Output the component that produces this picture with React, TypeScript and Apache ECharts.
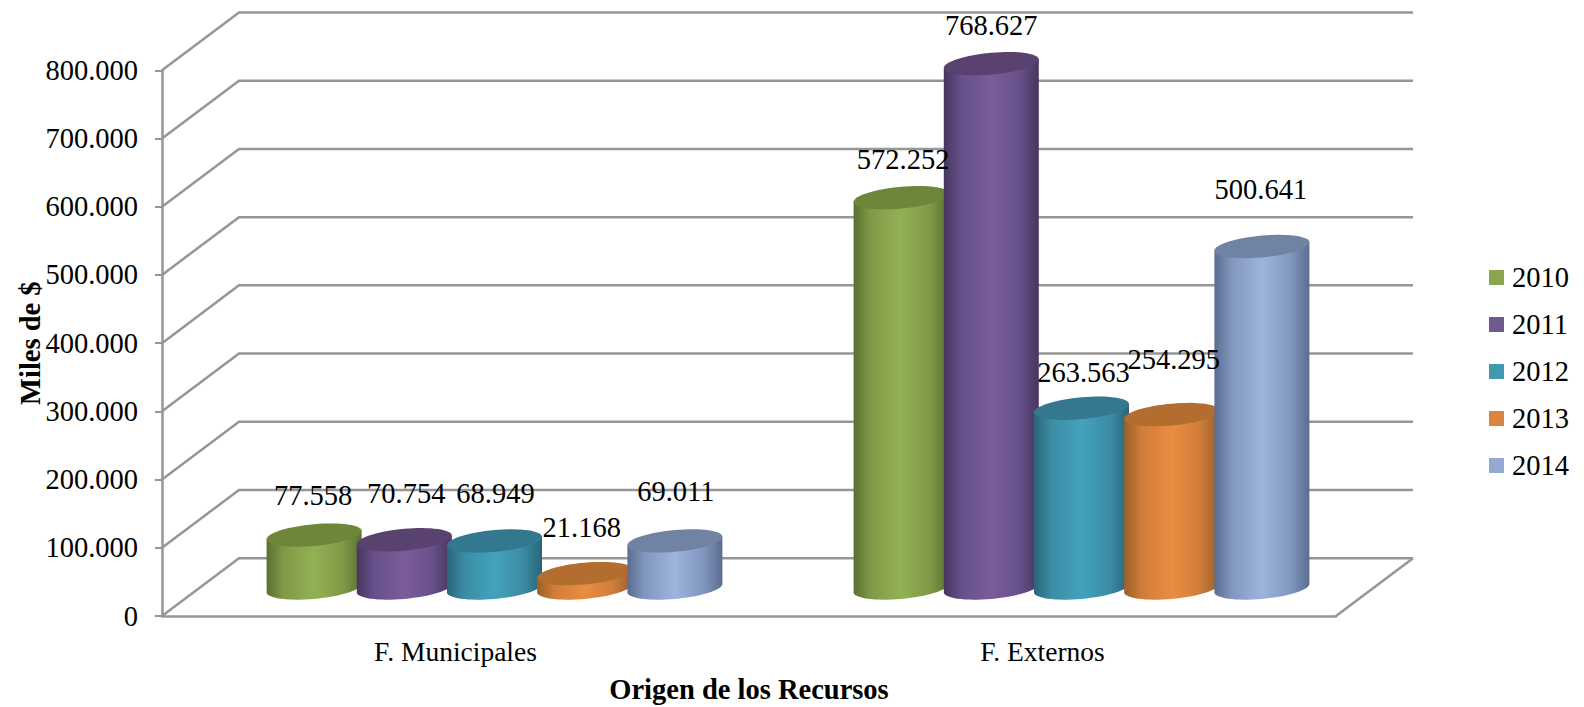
import React, { useEffect, useRef } from "react";
import * as echarts from "echarts";

const categories = ["F. Municipales", "F. Externos"];
const years = ["2010", "2011", "2012", "2013", "2014"];
const values2010 = [77558, 572252];
const values2011 = [70754, 768627];
const values2012 = [68949, 263563];
const values2013 = [21168, 254295];
const values2014 = [69011, 500641];
const allValues = [values2010, values2011, values2012, values2013, values2014];
const yTicks = [0, 100000, 200000, 300000, 400000, 500000, 600000, 700000, 800000];

const legendColors = ["#89A54E", "#71588F", "#4198AF", "#DB843D", "#93A9CF"];
const topColors = ["#6E8639", "#5A4270", "#33788E", "#B36D2F", "#7083A3"];
const edgeColors = ["#5C7030", "#46365E", "#2A6478", "#99602A", "#5A6C90"];
const midColors = ["#7F9A47", "#67508A", "#3B8CA4", "#CF7D3A", "#8297BF"];
const lightColors = ["#92B153", "#7A5C99", "#44A2BC", "#EA8D41", "#9DB4DD"];

// Manual data-label nudges as in the original, per year, per category.
const labelDx = [[-1, 2], [2, 0], [1, 2], [-3, 2], [1, -1]];
const labelDy = [[-39, -37], [-45, -37], [-46, -35], [-45, -54], [-48, -56]];
const categoryNudge = [0.5, 0.5];

const FONT = "Liberation Serif";
const FS = 28.5;
const GREY = "#969696";
const DEPTH_X = 77;
const DEPTH_Y = 57.8;
const BAR_LIFT = 28;
const STEP = 90.2;
const A = 47.5;
const B = 4.2;
const C = 10.9;

const fmt = (v: number) => (v === 0 ? "0" : `${Math.floor(v / 1000)}.${String(v % 1000).padStart(3, "0")}`);

function barCenter(api: any, idx: number) {
  const cat = api.value(0);
  const p = api.coord([cat, api.value(1)]);
  return [p[0] + DEPTH_X / 2 + (idx - 2) * STEP + categoryNudge[cat], p[1] - BAR_LIFT];
}

function renderBar(idx: number) {
  return (params: any, api: any) => {
    const [cx, cyTop] = barCenter(api, idx);
    const zero = api.coord([api.value(0), 0]);
    const cyBottom = zero[1] - BAR_LIFT;
    const body: number[][] = [];
    for (let i = 0; i <= 32; i++) {
      const t = (Math.PI * i) / 32;
      body.push([cx + A * Math.cos(t), cyBottom - B * Math.cos(t) + C * Math.sin(t)]);
    }
    body.push([cx - A, cyTop + B]);
    body.push([cx + A, cyTop - B]);
    const top: number[][] = [];
    for (let i = 0; i < 64; i++) {
      const t = (2 * Math.PI * i) / 64;
      top.push([cx + A * Math.cos(t), cyTop - B * Math.cos(t) + C * Math.sin(t)]);
    }
    const gradient = {
      type: "linear", x: 0, y: 0, x2: 1, y2: 0,
      colorStops: [
        { offset: 0, color: edgeColors[idx] },
        { offset: 0.18, color: midColors[idx] },
        { offset: 0.5, color: lightColors[idx] },
        { offset: 0.8, color: midColors[idx] },
        { offset: 1, color: edgeColors[idx] },
      ],
    };
    return {
      type: "group",
      children: [
        { type: "polygon", shape: { points: body }, style: { fill: gradient } },
        { type: "polygon", shape: { points: top }, style: { fill: topColors[idx] } },
      ],
    };
  };
}

function renderWall(params: any, api: any) {
  const cs = params.coordSys;
  const v = api.value(1);
  const y = api.coord([0, v])[1];
  const style = { stroke: GREY, lineWidth: 2.5, fill: "none" };
  const children: any[] = [
    {
      type: "polyline",
      shape: { points: [[cs.x, y], [cs.x + DEPTH_X, y - DEPTH_Y], [cs.x + cs.width + DEPTH_X, y - DEPTH_Y]] },
      style,
    },
  ];
  if (v === 0) {
    children.push({
      type: "line",
      shape: { x1: cs.x + cs.width, y1: y, x2: cs.x + cs.width + DEPTH_X, y2: y - DEPTH_Y },
      style,
    });
  }
  return { type: "group", children };
}

function renderLabel(params: any, api: any) {
  const idx = api.value(2);
  const cat = api.value(0);
  const [cx, cy] = barCenter(api, idx);
  return {
    type: "text",
    x: cx + labelDx[idx][cat],
    y: cy + labelDy[idx][cat] - 1,
    style: {
      text: fmt(api.value(1)),
      fill: "#000",
      font: `${FS}px "${FONT}"`,
      align: "center",
      verticalAlign: "middle",
    },
  };
}

export default function App() {
  const ref = useRef<HTMLDivElement>(null);
  useEffect(() => {
    const chart = echarts.init(ref.current!, null, { renderer: "svg" });
    const labelData: number[][] = [];
    allValues.forEach((vals, s) => vals.forEach((v, c) => labelData.push([c, v, s])));
    chart.setOption({
      animation: false,
      backgroundColor: "#fff",
      textStyle: { fontFamily: FONT },
      grid: { left: 162, top: 70.3, width: 1174, height: 545.7, containLabel: false, outerBoundsMode: "none" },
      legend: {
        orient: "vertical",
        left: 1484,
        top: 258,
        data: years,
        icon: "rect",
        itemWidth: 15,
        itemHeight: 15,
        itemGap: 18,
        textStyle: { fontFamily: FONT, fontSize: 28.5, color: "#000", padding: [0, 0, 0, 3] },
      },
      xAxis: {
        type: "category",
        data: categories,
        name: "Origen de los Recursos",
        nameLocation: "middle",
        nameMoveOverlap: false,
        nameGap: 59,
        nameTextStyle: { fontFamily: FONT, fontSize: 28.5, fontWeight: "bold", color: "#000" },
        axisLine: { lineStyle: { color: GREY, width: 2.5 } },
        axisTick: { show: false },
        axisLabel: { fontFamily: FONT, fontSize: 27.5, color: "#000", margin: 21 },
        splitLine: { show: false },
      },
      yAxis: {
        type: "value",
        min: 0,
        max: 800000,
        interval: 100000,
        name: "Miles de $",
        nameLocation: "middle",
        nameMoveOverlap: false,
        nameRotate: 90,
        nameGap: 117,
        nameTextStyle: { fontFamily: FONT, fontSize: 28.5, fontWeight: "bold", color: "#000" },
        axisLine: { show: true, lineStyle: { color: GREY, width: 2.5 } },
        axisTick: { show: true, length: 7, lineStyle: { color: GREY, width: 2 } },
        axisLabel: { fontFamily: FONT, fontSize: FS, color: "#000", margin: 24, formatter: (v: number) => fmt(v) },
        splitLine: { show: false },
      },
      series: [
        {
          type: "custom",
          name: "walls",
          coordinateSystem: "cartesian2d",
          silent: true,
          z: 1,
          encode: { x: 0, y: 1 },
          data: yTicks.map((v) => [0, v]),
          renderItem: renderWall,
        },
        ...years.map((y, i) => ({
          type: "custom",
          name: y,
          coordinateSystem: "cartesian2d",
          z: 2 + i,
          itemStyle: { color: legendColors[i] },
          encode: { x: 0, y: 1 },
          data: allValues[i].map((v, c) => [c, v]),
          renderItem: renderBar(i),
        })),
        {
          type: "custom",
          name: "labels",
          coordinateSystem: "cartesian2d",
          silent: true,
          z: 20,
          encode: { x: 0, y: 1 },
          data: labelData,
          renderItem: renderLabel,
        },
      ],
    });
    return () => chart.dispose();
  }, []);
  return <div ref={ref} style={{ position: "fixed", left: 0, top: 0, width: 1584, height: 707 }} />;
}
